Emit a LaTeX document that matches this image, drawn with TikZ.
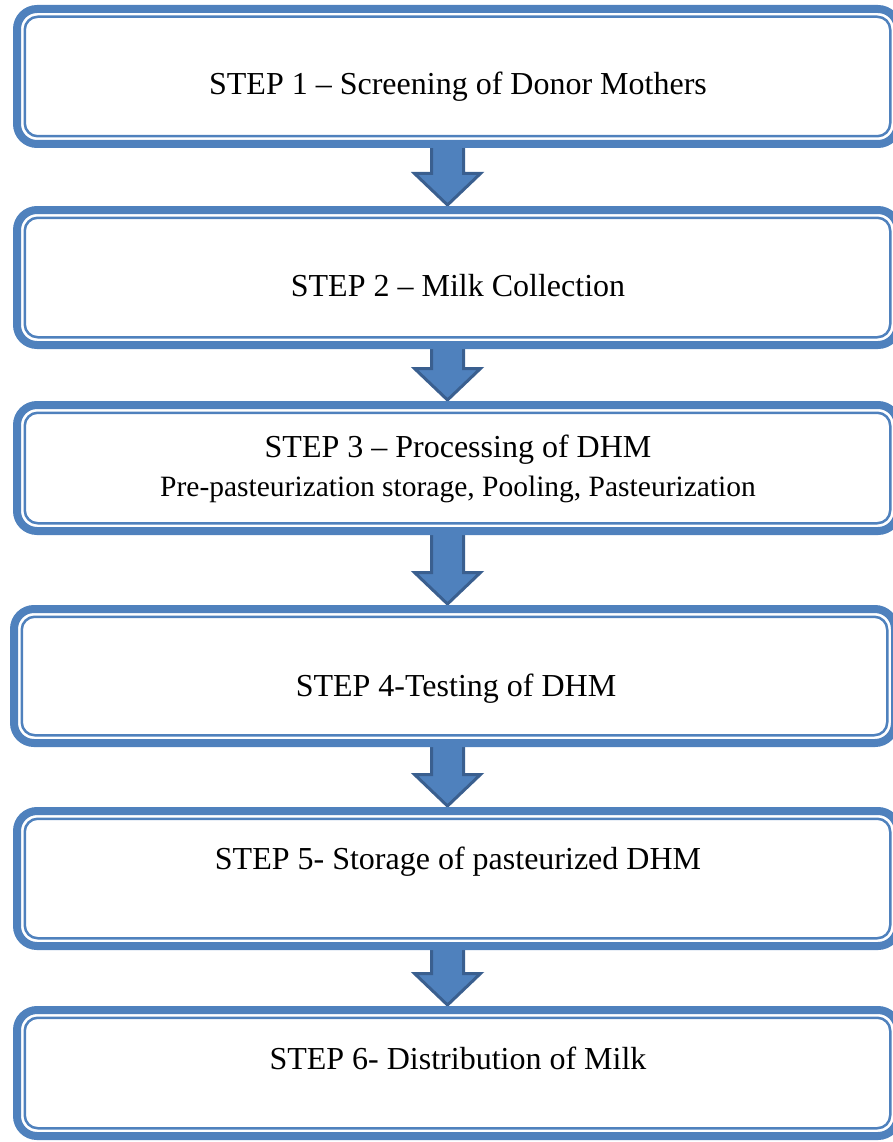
\documentclass[tikz,border=0pt]{standalone}
\usepackage{fontspec}
\setmainfont{Liberation Serif}
\usetikzlibrary{calc}
\definecolor{boxblue}{HTML}{4F81BD}
\definecolor{arrowedge}{HTML}{3A5F8F}
\pgfdeclarelayer{background}
\pgfsetlayers{background,main}
\newcommand\mkbox[4]{%
  \node[stepbox, minimum height=#4pt] (#1) at (#2,#3) {};
  \draw[innerline] ([xshift=7.75pt,yshift=-7.75pt]#1.north west) rectangle ([xshift=-7.75pt,yshift=7.75pt]#1.south east);}
\newcommand\flowarrow[2]{%
  \draw[blockarrow] let \p1=(#1.south), \p2=(#2.north) in
    (431.5pt,\y1-2pt) -- (463.5pt,\y1-2pt) -- (463.5pt,\y2+36.5pt) -- (480.5pt,\y2+36.5pt)
    -- (447.5pt,\y2+5pt) -- (414.5pt,\y2+36.5pt) -- (431.5pt,\y2+36.5pt) -- cycle;}
\begin{document}
\begin{tikzpicture}[x=1pt,y=-1pt,
  stepbox/.style={draw=boxblue, line width=8pt, rounded corners=20pt, minimum width=881pt, inner sep=0pt, outer sep=0pt},
  innerline/.style={draw=boxblue, line width=2.5pt, rounded corners=13pt},
  blockarrow/.style={fill=boxblue, draw=arrowedge, line width=3pt, line join=miter},
  steptext/.style={font=\fontsize{32}{38}\selectfont, anchor=base, inner sep=0pt},
  subtext/.style={font=\fontsize{29.5}{34}\selectfont, anchor=base, inner sep=0pt}]
\useasboundingbox (0,0) rectangle (893,1142);
\mkbox{b1}{457.5}{76.5}{135}
\mkbox{b2}{457.5}{277.5}{135}
\mkbox{b3}{457.5}{468}{126}
\mkbox{b4}{454.5}{676}{134}
\mkbox{b5}{457.5}{878.5}{135}
\mkbox{b6}{457.5}{1073}{126}
\begin{pgfonlayer}{background}
\flowarrow{b1}{b2}
\flowarrow{b2}{b3}
\flowarrow{b3}{b4}
\flowarrow{b4}{b5}
\flowarrow{b5}{b6}
\end{pgfonlayer}
\node[steptext] (t1) at (458,94.5) {STEP 1 – Screening of Donor Mothers};
\node[steptext] (t2) at (458,296) {STEP 2 – Milk Collection};
\node[steptext] (t3) at (458,457) {STEP 3 – Processing of DHM};
\node[subtext] (t3b) at (458,496) {Pre-pasteurization storage, Pooling, Pasteurization};
\node[steptext] (t4) at (456,696) {STEP 4-Testing of DHM};
\node[steptext] (t5) at (458,869) {STEP 5- Storage of pasteurized DHM};
\node[steptext] (t6) at (458,1069) {STEP 6- Distribution of Milk};
\end{tikzpicture}
\end{document}
